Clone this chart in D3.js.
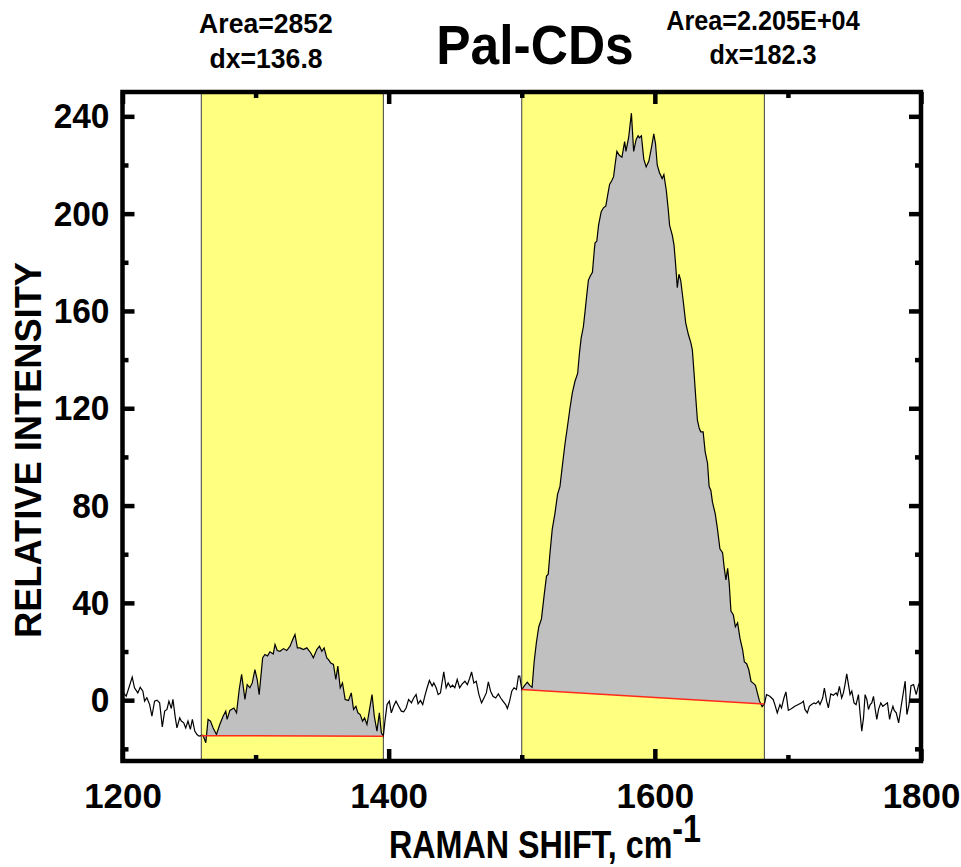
<!DOCTYPE html>
<html>
<head>
<meta charset="utf-8">
<script src="https://cdn.jsdelivr.net/npm/d3@7"></script>
<style>
  body { margin: 0; background: #fff; }
  text { font-family: "Liberation Sans", Arial, sans-serif; font-weight: bold; fill: #000; }
</style>
</head>
<body>
<svg id="chart" width="961" height="867"></svg>
<script>
// raman spectrum
const shift = [
  1200,1202.8,1207.3,1209,1211.5,1213.3,1215.3,1216.6,1218.3,1220.4,1222.1,1224.1,1225.9,1227.9,1229.9,1231.7,
  1233.4,1234.9,1236.7,1237.9,1239.7,1240.9,1243,1244.2,1246,1247.5,1249.2,1251,1252.5,1254.3,1256,1257.5,
  1259,1260.5,1262.6,1264.3,1266.1,1268.1,1270.6,1273.1,1275.6,1277.6,1278.6,1280.7,1283.7,1285.7,1287.7,1289.5,
  1292,1293.7,1295.7,1297.5,1299.5,1301.2,1302.7,1305.3,1307,1309,1310.8,1313.3,1314.6,1316.3,1318.3,1321,
  1323.4,1325.9,1327.9,1329.6,1331.4,1333.4,1335.9,1338.5,1341.5,1343.4,1346,1348,1349.8,1351.5,1353.5,1354.8,
  1356.5,1358.5,1360.3,1361.8,1363.6,1365.3,1367.3,1369.8,1371.9,1373.6,1375.4,1376.9,1378.6,1380.4,1381.9,1383.7,
  1385.4,1387.5,1389.2,1391.2,1393,1394.5,1396,1397.2,1398.8,
  1400.5,1402,1403.7,1405.5,1407.5,1409.5,1411.3,1413.1,1415,1417.1,1418.8,1420.6,1422.1,1423.9,1425.6,1427.3,
  1428.9,1430.6,1432.7,1433.9,1435.7,1437.2,1438.9,1441.4,1443.2,1444.7,1446.5,1448,1449.7,1451.5,1453.3,1455.3,
  1457.3,1459.1,1460.8,1462.3,1464,1465.8,1467.8,1469.8,1471.6,1473.4,1474.9,1476.6,1478.4,1480.4,1482.4,1484.2,
  1485.9,1487.9,1489.2,1490.9,1492.5,1494.2,1496,1497.5,1498.5,1500,
  1502.2,1504.2,1506,1507.8,1509.3,1511,1512.8,1514.8,1516.8,1518.6,1519.9,1521.1,1522.9,1524.9,1526.9,1528.7,
  1530.4,1532.5,1534.2,1536.2,1538,1540,1542,1543.3,1544.6,1546.3,1547.6,1548.8,1550.1,1551.4,1553.1,1554.6,
  1555.1,1556.4,1557.7,1559.7,1561.4,1563.2,1564.7,1566,1567.7,1569,1570.3,1571.5,1573.3,1575.3,1577.3,1578.3,
  1580.3,1582.4,1584.1,1585.9,1587.4,1588.4,1589.9,1591.7,1593.5,1595.5,1597.5,1599.2,1600.5,1601.8,1603.5,1605.5,
  1606.8,1608.6,1610.1,1611.1,1613.1,1614.4,1615.6,1616.9,1618.1,1619.4,1621.2,1623.2,1625.2,1627,1628.2,1629.5,
  1630.7,1632,1633.3,1634.5,1636.3,1637.8,1639.6,1640.8,1642.1,1643.3,1645.4,1647.1,1648.9,1650.9,1652.2,1653.4,
  1654.7,1655.9,1657.2,1659,1660.5,1662.2,1664,1666,1667.3,1669,1670.6,1672.3,1674.1,1675.6,1677.1,1678.6,
  1680.6,1682.4,
  1683.9,1686.4,1688.9,1690.2,1692,1694,1695.2,1697,1698.5,1700.3,1702.8,1705.2,1707.8,1710.3,1711.6,1712.8,
  1714.6,1716.1,1717.8,1719.6,1721,1722.9,1724.1,1726.1,1727.4,1729.1,1730.4,1732.2,1734.2,1736.2,1737.2,1738.7,
  1740.4,1741.7,1742.9,1744.2,1745.5,1746.7,1748,1749.7,1751.2,1753,1754.3,1755.5,1756.8,1758,1759.3,1760.5,
  1761.8,1763,1764.3,1765.6,1766.8,1768.1,1769.8,1771.3,1773.1,1774.8,1776.4,1777.4,1778.9,1779.9,1781.4,1783.2,
  1784.9,1786.9,1788.1,1789.4,1791,1792.5,1794.4,1796.4,1798.2,1800
];
const intensity = [
  3.7,1.6,9.5,5.1,3,5.3,3.7,-0.4,1,-1.8,-6.6,-0.4,0,-1.1,-11,-4.5,
  -3.8,-0.4,-3.4,0.3,-7.3,-11.4,-7.3,-8.6,-9.3,-11.4,-8.6,-12,-7.9,-12.7,-14.1,-14.8,
  -14.6,-14.4,-17.5,-7.9,-8.6,-11.4,-14.1,-10,-6.6,-4.5,-7.9,-4.2,-3.2,-5.2,4.4,10.6,
  0.3,6.4,5.1,7.1,12.6,8.5,2.3,17.4,18.8,18.2,19.9,19,22.9,20.4,20.1,21.2,
  20.4,22.2,24.9,27,21.5,21.5,20.8,21.5,19.4,17.4,20.8,22.2,20.1,21.5,17.4,16.7,
  15.3,14.7,8.5,14,5.1,7.1,0.3,-0.1,3,-3.8,-2.5,-5.2,-5.9,-8.6,-7.3,-10,
  -4.5,2.3,-6.6,-12.7,-5.2,-13.4,-14.8,-8.6,-1.8,
  -0.4,-5.2,-2.5,-0.4,-2.5,-4.5,-4.8,-3.2,0.3,-1.1,0.9,2.3,-1.5,-0.1,-1.8,2,
  5.1,8.1,5.8,7.1,5.1,2.3,3,11.6,5.1,7.1,5.3,6.2,5.1,8.5,5.1,6.7,
  7.8,6.4,8.9,11.6,7.1,7.8,2.3,-1.1,0.9,3,7.5,3.7,1.6,0.9,2.6,0.9,
  -0.4,-1.8,-3.4,-0.4,3.7,5.1,4.4,9.9,9.9,4.4,
  6.1,7.4,6.1,5.3,15.7,23.7,30.2,33.4,43,51,51.8,59.8,70.2,76.6,84.6,87.8,
  95.8,105.4,111.9,119.9,126.3,131.1,134.3,142.3,148.7,153.5,159.9,166.3,172.7,174.3,175.9,185.5,
  188,188.7,195.2,200.8,202.4,203.2,208,212,213.6,215.2,220.8,225.6,224,223.2,229.6,225.6,
  231.2,241.3,225.6,230.4,232,231.2,232,222.4,219.2,221.6,227.2,232.8,228.8,220,216.8,214.4,
  216,209.6,201.6,195.2,191.2,187.2,179.2,169.6,175.1,172.7,164.7,155.1,150.3,147.1,143.9,134.3,
  124.7,115.1,111.9,110.3,110.3,102.2,97.4,87.8,86.2,81.4,76.6,70.2,62.2,60.6,54.2,49.4,
  54.2,47.8,36.6,35,30.2,31.8,25.4,20.6,15.7,15,12.5,7.7,6.9,6.1,2.9,-0.3,
  -2.7,-1.5,
  2.3,1.6,0.3,-1.8,-5.2,-1.8,-3.2,0.9,3.4,-4.2,-3.4,-2.5,-1.8,-1.1,-0.4,-3.8,
  -5.2,-2.5,-1.8,-1.1,-1.5,-0.4,-1.8,0.9,5,-0.4,-3.2,2.6,2,3,2,5.7,
  0.9,3,6.4,10.8,6.4,2.3,3.7,-1.1,-1.8,2.3,-5.9,-12.7,-7.3,2.3,0.3,-3.8,
  -1.8,-1.1,1.6,-3.8,-7.9,-3.8,-1.1,-2.5,-1.8,-1.1,-7.9,-5.2,-2.5,-4.2,-5.2,-9.3,
  -3.2,3.7,7.8,-5.9,-1.8,6,6.4,2.3,6.4,8.1
];

// integration windows
const bandStart = [1259.2, 1500.0];
const bandWidth = [136.8, 182.3];
const areaText = ["Area=2852", "Area=2.205E+04"];
const dxText = ["dx=136.8", "dx=182.3"];

const xMajor = [1200, 1400, 1600, 1800];
const xMinor = [1300, 1500, 1700];
const yMajor = [0, 40, 80, 120, 160, 200, 240];
const yMinor = [-20, 20, 60, 100, 140, 180, 220];

var svg = d3.select("#chart");
// note: "top" is taken by window.top, so use other names
var plotLeft = 122.5, plotRight = 921, plotTop = 92, plotBottom = 761;

var x = d3.scaleLinear().domain([1200, 1800]).range([plotLeft, plotRight]);
var y = d3.scaleLinear().domain([-25, 250]).range([plotBottom, plotTop]);

var data = shift.map(function (s, i) { return [s, intensity[i]]; });

function valueAt(v) {
  var i = d3.bisector(function (d) { return d[0]; }).left(data, v);
  if (i <= 0) return data[0][1];
  if (i >= data.length) return data[data.length - 1][1];
  var a = data[i - 1], b = data[i];
  return a[1] + (v - a[0]) / (b[0] - a[0]) * (b[1] - a[1]);
}

var bands = bandStart.map(function (a, i) {
  var b = a + bandWidth[i];
  var ya = valueAt(a), yb = valueAt(b);
  var pts = [[a, ya]].concat(data.filter(function (d) { return d[0] > a && d[0] < b; }), [[b, yb]]);
  return { a: a, b: b, ya: ya, yb: yb, pts: pts };
});

// yellow windows
svg.append("g").selectAll("rect")
  .data(bands)
  .enter()
  .append("rect")
  .attr("x", function (d) { return x(d.a); })
  .attr("y", plotTop)
  .attr("width", function (d) { return x(d.b) - x(d.a); })
  .attr("height", plotBottom - plotTop)
  .style("fill", "#ffff80")
  .style("stroke", "#404040")
  .style("stroke-width", 1);

// grey integrated area over the straight baseline
svg.append("g").selectAll("path")
  .data(bands)
  .enter()
  .append("path")
  .attr("d", function (band) {
    var base = function (v) { return band.ya + (v - band.a) / (band.b - band.a) * (band.yb - band.ya); };
    return d3.area()
      .x(function (d) { return x(d[0]); })
      .y0(function (d) { return y(base(d[0])); })
      .y1(function (d) { return y(d[1]); })(band.pts);
  })
  .style("fill", "#c0c0c0");

svg.append("path")
  .datum(data)
  .attr("d", d3.line().x(function (d) { return x(d[0]); }).y(function (d) { return y(d[1]); }))
  .style("fill", "none")
  .style("stroke", "#000")
  .style("stroke-width", 1.2);

svg.append("g").selectAll("line")
  .data(bands)
  .enter()
  .append("line")
  .attr("x1", function (d) { return x(d.a); })
  .attr("y1", function (d) { return y(d.ya); })
  .attr("x2", function (d) { return x(d.b); })
  .attr("y2", function (d) { return y(d.yb); })
  .style("stroke", "#ff2a1a")
  .style("stroke-width", 1.5);

// axes, ticks pointing inward
function styleAxis(g) {
  g.select(".domain").remove();
  g.selectAll("line").style("stroke", "#000").style("stroke-width", 4.5);
}

svg.append("g").attr("transform", "translate(0," + plotBottom + ")")
  .call(d3.axisBottom(x).tickValues(xMajor).tickSize(-12).tickPadding(21).tickFormat(d3.format("d")))
  .call(styleAxis)
  .selectAll("text")
  .style("font-size", "36px")
  .attr("transform", "scale(0.97,1)");
svg.append("g").attr("transform", "translate(0," + plotBottom + ")")
  .call(d3.axisBottom(x).tickValues(xMinor).tickSize(-6).tickFormat(""))
  .call(styleAxis);
svg.append("g").attr("transform", "translate(0," + plotTop + ")")
  .call(d3.axisTop(x).tickValues(xMajor).tickSize(-12).tickFormat(""))
  .call(styleAxis);
svg.append("g").attr("transform", "translate(0," + plotTop + ")")
  .call(d3.axisTop(x).tickValues(xMinor).tickSize(-6).tickFormat(""))
  .call(styleAxis);

svg.append("g").attr("transform", "translate(" + plotLeft + ",0)")
  .call(d3.axisLeft(y).tickValues(yMajor).tickSize(-12).tickPadding(14))
  .call(styleAxis)
  .selectAll("text")
  .style("font-size", "36px")
  .attr("transform", "scale(0.93,1)");
svg.append("g").attr("transform", "translate(" + plotLeft + ",0)")
  .call(d3.axisLeft(y).tickValues(yMinor).tickSize(-6).tickFormat(""))
  .call(styleAxis);
svg.append("g").attr("transform", "translate(" + plotRight + ",0)")
  .call(d3.axisRight(y).tickValues(yMajor).tickSize(-12).tickFormat(""))
  .call(styleAxis);
svg.append("g").attr("transform", "translate(" + plotRight + ",0)")
  .call(d3.axisRight(y).tickValues(yMinor).tickSize(-6).tickFormat(""))
  .call(styleAxis);

svg.append("rect")
  .attr("x", plotLeft).attr("y", plotTop)
  .attr("width", plotRight - plotLeft).attr("height", plotBottom - plotTop)
  .style("fill", "none")
  .style("stroke", "#000")
  .style("stroke-width", 4.5);

// text
function label(px, py, str, size, sx, rot) {
  return svg.append("text")
    .attr("transform", "translate(" + px + "," + py + ")" + (rot ? " rotate(" + rot + ")" : "") + " scale(" + sx + ",1)")
    .attr("text-anchor", "middle")
    .style("font-size", size + "px")
    .text(str);
}

label(535, 64, "Pal-CDs", 56, 0.92);
label(266, 33, areaText[0], 28, 0.95);
label(266, 68, dxText[0], 28, 0.95);
label(763, 30, areaText[1], 28, 0.9);
label(763, 64, dxText[1], 28, 0.9);

label(41, 450, "RELATIVE INTENSITY", 37, 0.98, -90);

var xl = label(545, 858, "RAMAN SHIFT, cm", 38, 0.85);
xl.append("tspan").attr("dy", -16).text("-1");
</script>
</body>
</html>
